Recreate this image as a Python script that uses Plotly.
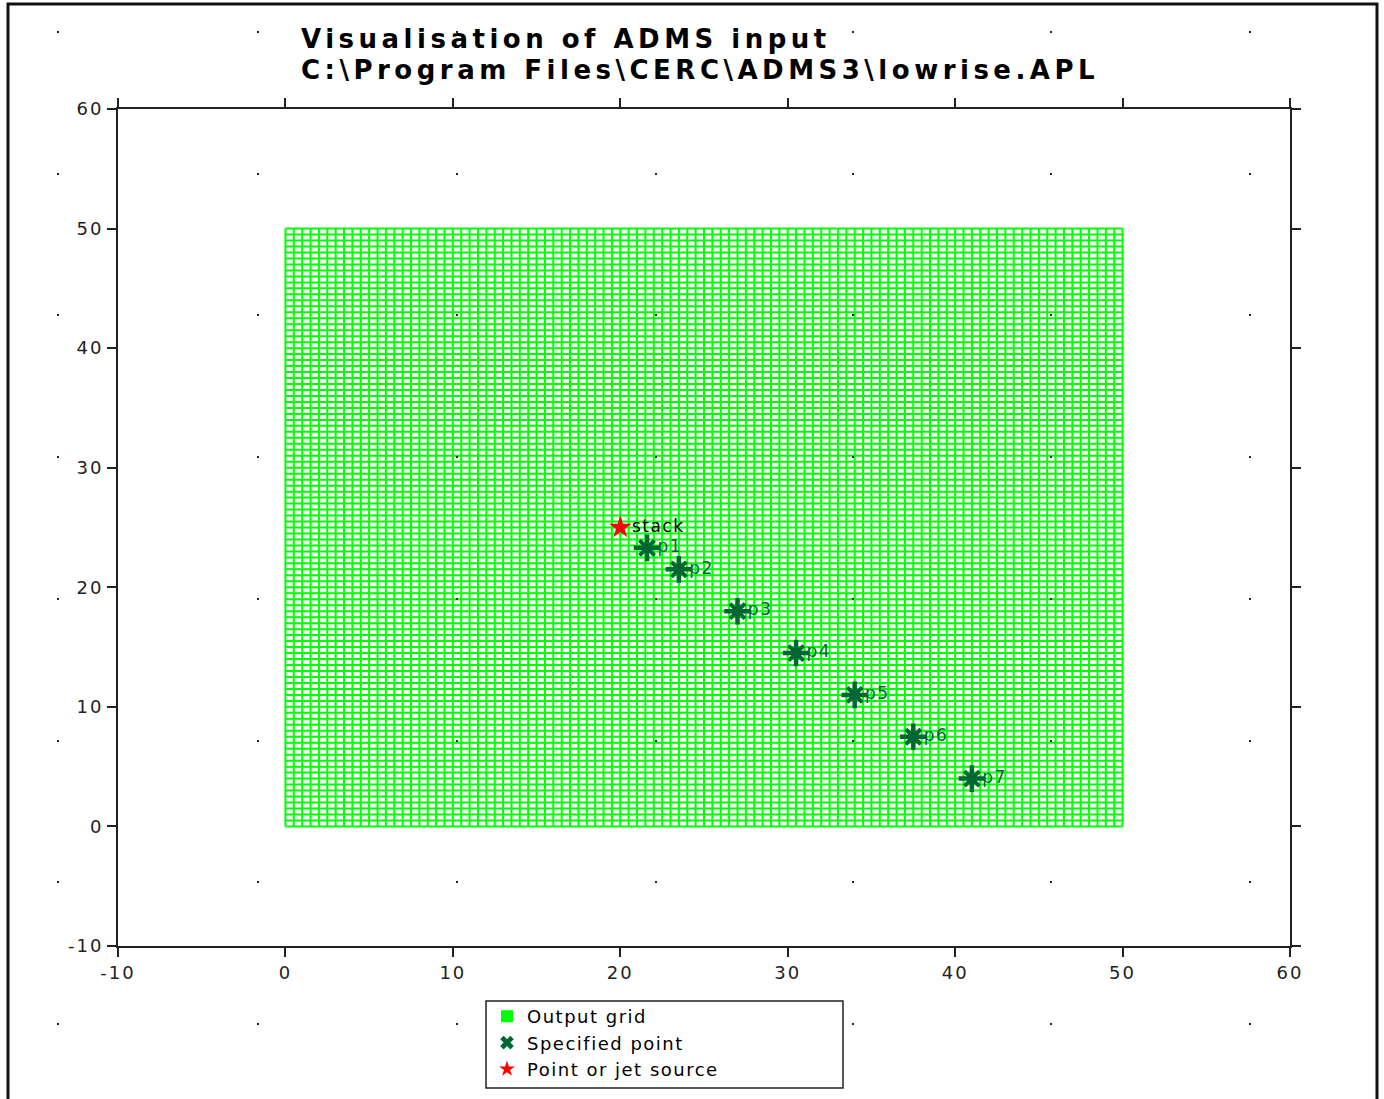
import numpy as np
import plotly.graph_objects as go

# ---- data ----
grid_x_min, grid_x_max, grid_nx = 0, 50, 101
grid_y_min, grid_y_max, grid_ny = 0, 50, 101

source_names = ["stack"]
source_x = [20.0]
source_y = [25.0]

point_names = ["p1", "p2", "p3", "p4", "p5", "p6", "p7"]
point_x = [21.6, 23.5, 27.0, 30.5, 34.0, 37.5, 41.0]
point_y = [23.3, 21.5, 18.0, 14.5, 11.0, 7.5, 4.0]

x_ticks = [-10, 0, 10, 20, 30, 40, 50, 60]
y_ticks = [-10, 0, 10, 20, 30, 40, 50, 60]

title_lines = ["Visualisation of ADMS input", "C:\\Program Files\\CERC\\ADMS3\\lowrise.APL"]

GREEN = "#00ff00"
DKGREEN = "#006633"
SP = '<span style="letter-spacing:{}px">{}</span>'

gx = np.linspace(grid_x_min, grid_x_max, grid_nx)
gy = np.linspace(grid_y_min, grid_y_max, grid_ny)

lx, ly = [], []
for xv in gx:
    lx += [xv, xv, None]
    ly += [grid_y_min, grid_y_max, None]
for yv in gy:
    lx += [grid_x_min, grid_x_max, None]
    ly += [yv, yv, None]

fig = go.Figure()
fig.add_trace(go.Scatter(x=lx, y=ly, mode="lines",
                         line=dict(color=GREEN, width=2),
                         showlegend=False, hoverinfo="skip"))
# legend entries
fig.add_trace(go.Scatter(x=[None], y=[None], mode="markers",
                         name=SP.format(1.5, "Output grid"),
                         marker=dict(symbol="square", size=18, color=GREEN)))
fig.add_trace(go.Scatter(x=[None], y=[None], mode="markers",
                         name=SP.format(1.5, "Specified point"),
                         marker=dict(symbol="x", size=17, color=DKGREEN, line=dict(width=0))))
fig.add_trace(go.Scatter(x=[None], y=[None], mode="markers",
                         name=SP.format(1.5, "Point or jet source"),
                         marker=dict(symbol="star", size=17, color="red", line=dict(width=0))))
# specified points
fig.add_trace(go.Scatter(x=point_x, y=point_y, mode="markers", showlegend=False,
                         marker=dict(symbol="cross-thin", size=19,
                                     line=dict(color=DKGREEN, width=4.5)),
                         hoverinfo="skip"))
fig.add_trace(go.Scatter(x=point_x, y=point_y, mode="markers+text", showlegend=False,
                         text=[SP.format(1.5, n) for n in point_names],
                         textposition="middle right",
                         textfont=dict(family="DejaVu Sans", size=17, color=DKGREEN),
                         marker=dict(symbol="x-thin", size=15,
                                     line=dict(color=DKGREEN, width=4))))
# source
fig.add_trace(go.Scatter(x=source_x, y=source_y, mode="markers+text", showlegend=False,
                         text=[SP.format(1.5, n) for n in source_names],
                         textposition="middle right",
                         textfont=dict(family="DejaVu Sans", size=17, color="black"),
                         marker=dict(symbol="star", size=17, color="red")))

# page decoration: dotted background, frame, legend box
L, R, T, B = 118, 94, 109, 153
W, H = 1384, 1099
pw, ph = W - L - R, H - T - B
def px2paper(px, py):
    return (px - L) / pw, (H - B - py) / ph

shapes = []
dot_px = [58, 258, 457, 656, 853, 1051, 1250]
dot_py = [32, 174, 315, 457, 599, 741, 882, 1024]
for dx in dot_px:
    for dy in dot_py:
        x0, y0 = px2paper(dx - 1, dy + 1)
        x1, y1 = px2paper(dx + 1, dy - 1)
        shapes.append(dict(type="rect", xref="paper", yref="paper", x0=x0, y0=y0, x1=x1, y1=y1,
                           fillcolor="#222", line=dict(width=0), layer="above"))
fx0, fy0 = px2paper(8, 1110)
fx1, fy1 = px2paper(1377, 4)
shapes.append(dict(type="rect", xref="paper", yref="paper", x0=fx0, y0=fy0, x1=fx1, y1=fy1,
                   line=dict(color="#111", width=3), fillcolor="rgba(0,0,0,0)", layer="below"))
bx0, by0 = px2paper(486, 1088)
bx1, by1 = px2paper(843, 1001)
shapes.append(dict(type="rect", xref="paper", yref="paper", x0=bx0, y0=by0, x1=bx1, y1=by1,
                   line=dict(color="#222", width=1.5), fillcolor="white", layer="above"))

annotations = []
for line, cy in zip(title_lines, [39, 70]):
    ax, ay = px2paper(299, cy)
    annotations.append(dict(text=SP.format(4.5, line), xref="paper", yref="paper",
                            x=ax, y=ay, xanchor="left", yanchor="middle", showarrow=False,
                            font=dict(family="DejaVu Sans", size=26, color="black",
                                      weight="bold")))

axis_common = dict(showgrid=False, zeroline=False, showline=True, linecolor="#222",
                   linewidth=2, ticks="outside", ticklen=9, tickwidth=2, tickcolor="#222",
                   mirror="ticks",
                   tickfont=dict(family="DejaVu Sans", size=18, color="#222"))

lgx, lgy = px2paper(487, 998)
fig.update_layout(
    width=W, height=H,
    margin=dict(l=L, r=R, t=T, b=B, autoexpand=False),
    paper_bgcolor="white", plot_bgcolor="white",
    xaxis=dict(range=[-10, 60], tickvals=x_ticks,
               ticktext=[SP.format(2, str(v)) for v in x_ticks], **axis_common),
    yaxis=dict(range=[-10, 60], tickvals=y_ticks,
               ticktext=[SP.format(2, str(v)) for v in y_ticks], **axis_common),
    legend=dict(x=lgx, y=lgy, xanchor="left", yanchor="top",
                borderwidth=0, bgcolor="rgba(0,0,0,0)",
                font=dict(family="DejaVu Sans", size=18, color="black"),
                itemsizing="constant", tracegroupgap=0),
    shapes=shapes,
    annotations=annotations,
)

fig.write_html("out.html", post_script="document.body.style.margin='0px';",
               config={"displayModeBar": False})
